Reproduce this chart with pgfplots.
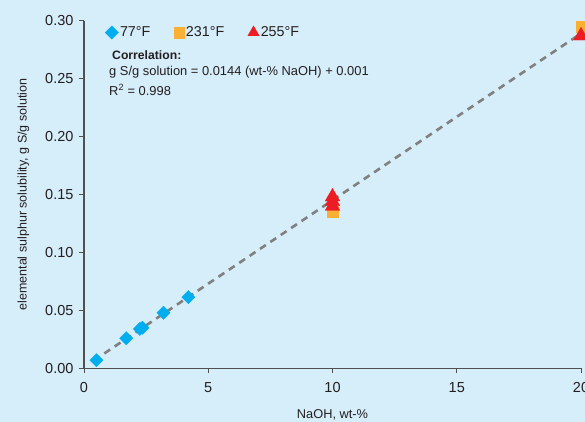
\documentclass[border=0pt]{standalone}
\usepackage{fontspec}
\setmainfont{Liberation Sans}
\usepackage{pgfplots}
\pgfplotsset{compat=1.18}
\definecolor{bg}{RGB}{214,237,250}
\definecolor{cyanpt}{RGB}{0,174,239}
\definecolor{orangept}{RGB}{251,176,52}
\definecolor{redpt}{RGB}{237,28,36}
\definecolor{fitgray}{RGB}{128,128,128}
\definecolor{axisgray}{RGB}{80,80,80}
\definecolor{txt}{RGB}{35,31,32}
\begin{document}
\begin{tikzpicture}
\path[use as bounding box, fill=bg] (0,0) rectangle (585pt,422pt);
\clip (0,0) rectangle (585pt,422pt);
\begin{axis}[
    at={(84pt,53.7pt)}, anchor=south west,
    scale only axis, width=497pt, height=347.6pt,
    xmin=0, xmax=20, ymin=0, ymax=0.30,
    xtick={0,5,10,15,20},
    ytick={0,0.05,0.10,0.15,0.20,0.25,0.30},
    axis lines=left,
    axis line style={-, axisgray, line width=1.1pt},
    tick style={axisgray, line width=1pt},
    tick align=outside, major tick length=4.5pt,
    clip=false,
    tick label style={text=txt, font=\fontsize{14.5}{16}\selectfont},
    /pgf/number format/assume math mode=true,
    y tick label style={xshift=-2.5pt, /pgf/number format/.cd, fixed, fixed zerofill, precision=2},
    x tick label style={yshift=-6pt, /pgf/number format/.cd, fixed},
    xlabel={NaOH, wt-\%},
    ylabel={elemental sulphur solubility, g S/g solution},
    every axis x label/.style={at={(axis description cs:0.5,-0.143)}, anchor=base,
        font=\fontsize{12.8}{14}\selectfont, text=txt},
    every axis y label/.style={at={(axis description cs:-0.1217,0.5)}, rotate=90, anchor=center,
        font=\fontsize{12.5}{14}\selectfont, text=txt},
    legend columns=3,
    legend image code/.code={\draw[#1,only marks] plot coordinates {(0pt,0pt)};},
    legend style={at={(axis description cs:0.0423,0.966)}, anchor=west,
        draw=none, fill=none, inner sep=0pt,
        font=\fontsize{14.3}{16}\selectfont, text=txt,
        nodes={inner xsep=1.5pt, inner ysep=1pt},
        /tikz/every even column/.append style={column sep=22pt}},
]
% regression line
\addplot[forget plot, fitgray, line width=2.6pt, dash pattern=on 7pt off 5.5pt]
coordinates {(0.4,0.0068) (20,0.289)};

\addplot[only marks, mark=square*, mark size=4.7pt,
    mark options={rotate=45, fill=cyanpt, draw=cyanpt, line width=0.3pt}]
coordinates {(0.5,0.007) (1.7,0.026) (2.25,0.034) (2.35,0.035) (3.2,0.048) (4.2,0.0615)};
\addlegendentry{77°F}

\addplot[only marks, mark=square*, mark size=5.3pt,
    mark options={fill=orangept, draw=orangept, line width=0.3pt}]
coordinates {(10,0.135) (20,0.295)};
\addlegendentry{231°F}

\addplot[only marks, mark=triangle*, mark size=8.5pt,
    mark options={fill=redpt, draw=redpt, line width=0.3pt},
    legend image post style={scale=0.78}]
coordinates {(10,0.148) (10,0.144) (10,0.140) (20,0.287)};
\addlegendentry{255°F}
\end{axis}
\node[anchor=west, inner sep=0pt, text=txt, font=\bfseries\fontsize{12.2}{14}\selectfont]
    at (112pt,367pt) {Correlation:};
\node[anchor=west, inner sep=0pt, text=txt, font=\fontsize{12.9}{14}\selectfont]
    at (109pt,350pt) {g S/g solution = 0.0144 (wt-\% NaOH) + 0.001};
\node[anchor=west, inner sep=0pt, text=txt, font=\fontsize{12.9}{14}\selectfont]
    at (109pt,332pt) {R\textsuperscript{2} = 0.998};
\end{tikzpicture}
\end{document}
